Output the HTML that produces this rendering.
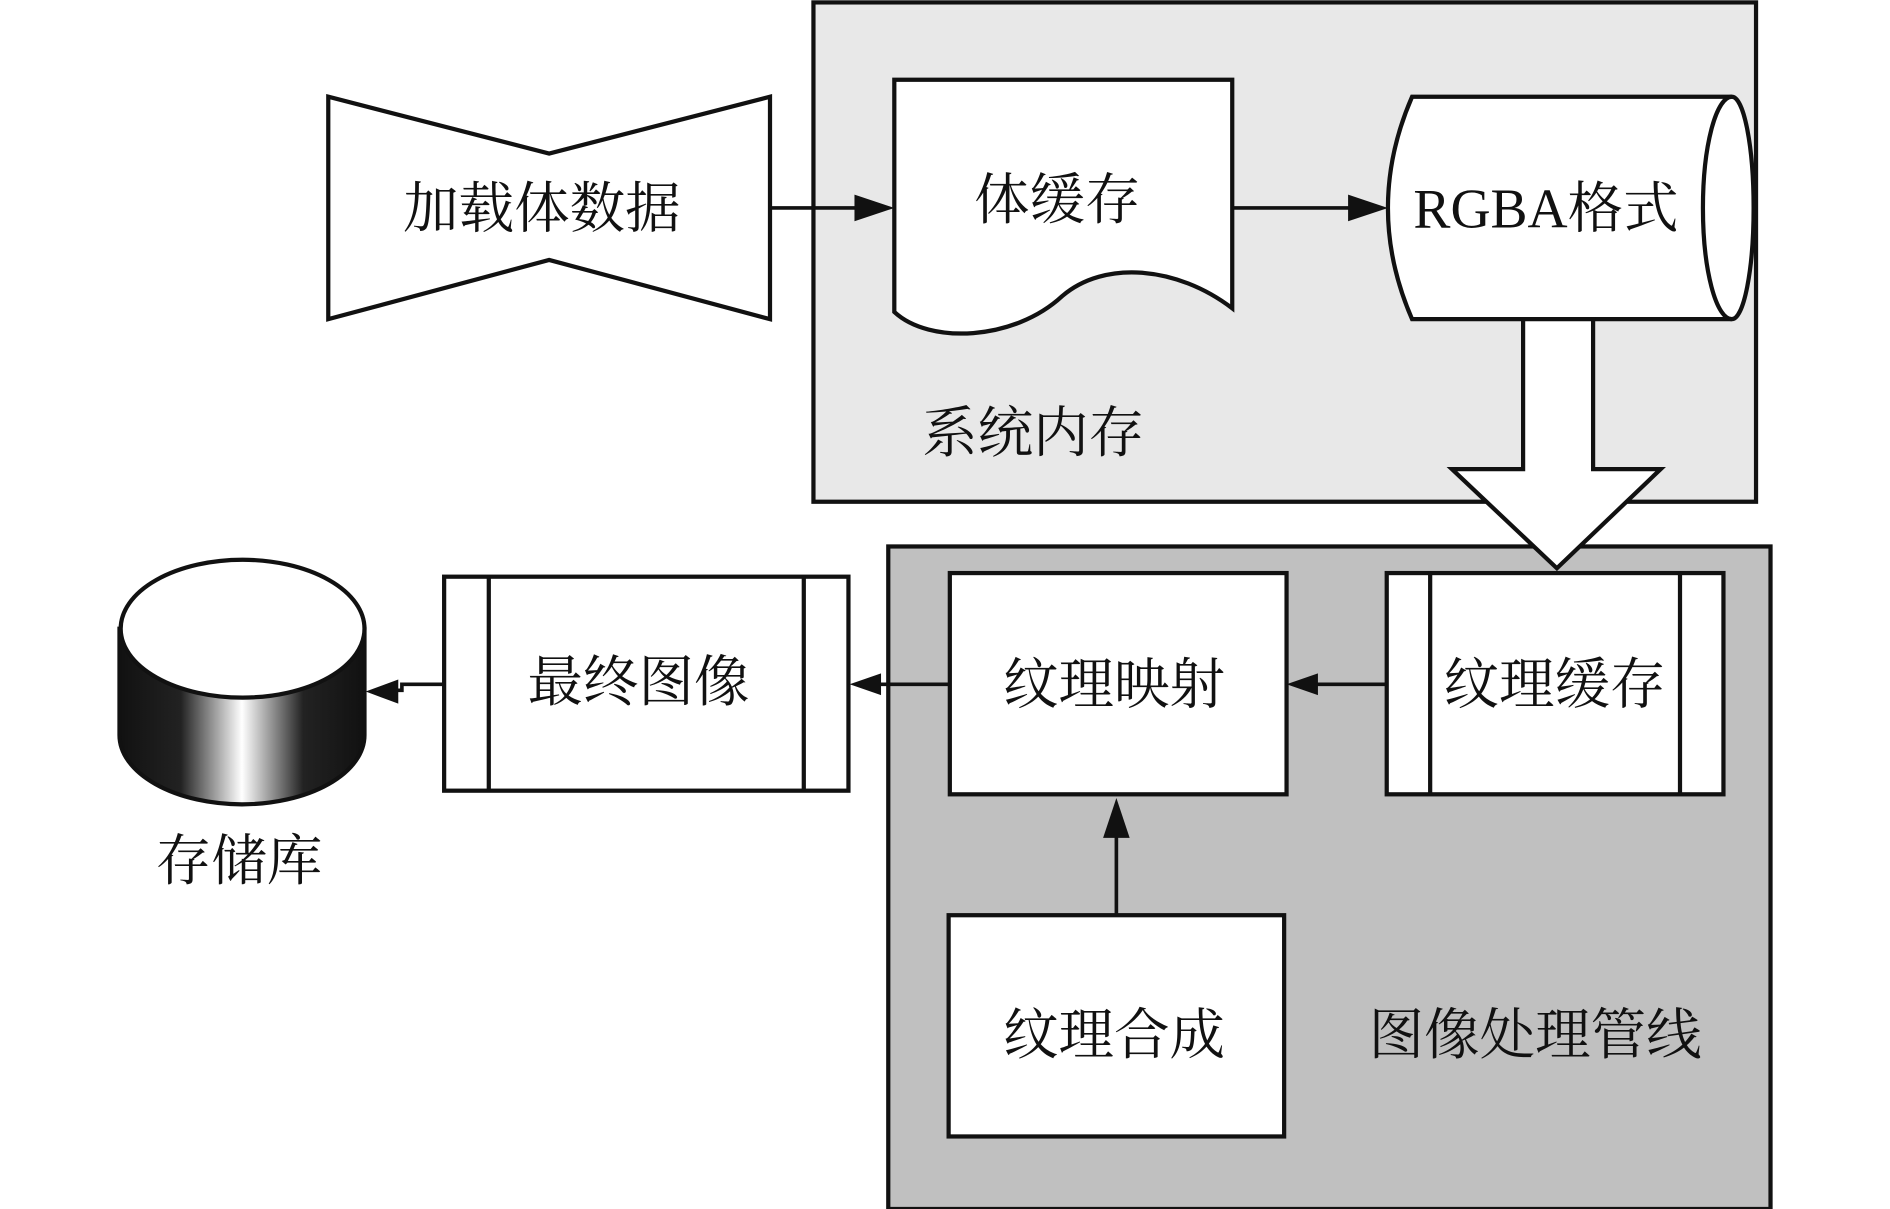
<!DOCTYPE html>
<html><head><meta charset="utf-8"><style>
html,body{margin:0;padding:0;background:#fff;}
svg{display:block;}
text{font-family:"Liberation Serif","Noto Serif CJK SC",serif;font-size:46px;fill:#111;}
</style></head><body>
<svg width="1890" height="1209" viewBox="0 0 1566 1000" preserveAspectRatio="none" xmlns="http://www.w3.org/2000/svg">
<defs>
<linearGradient id="cg" x1="0" x2="1" y1="0" y2="0">
<stop offset="0" stop-color="#111"/><stop offset="0.25" stop-color="#222"/><stop offset="0.5" stop-color="#fff"/><stop offset="0.75" stop-color="#222"/><stop offset="1" stop-color="#111"/>
</linearGradient>
</defs>
<g stroke="#111" stroke-width="3.5" stroke-linejoin="miter">
<rect x="674" y="2" width="781" height="413" fill="#e8e8e8"/>
<rect x="736" y="452" width="731" height="548" fill="#c0c0c0"/>
<polygon points="272,80 455,127 638,80 638,264 455,215 272,264" fill="#fff"/>
<path d="M741,66 H1021 V255 C975,220 915,215 880,245 C840,282 770,285 741,258 Z" fill="#fff"/>
<path d="M1170,80 L1435,80 A18,92 0 0 1 1435,264 L1170,264 Q1130,172 1170,80 Z" fill="#fff"/>
<path d="M1435,80 A24,92 0 0 0 1435,264" fill="none"/>
<polygon points="1262,264 1320,264 1320,388 1376,388 1290,470 1203,388 1262,388" fill="#fff"/>
<rect x="1149" y="474" width="279" height="183" fill="#fff"/>
<line x1="1185" y1="474" x2="1185" y2="657"/><line x1="1392" y1="474" x2="1392" y2="657"/>
<rect x="787" y="474" width="279" height="183" fill="#fff"/>
<rect x="786" y="757" width="278" height="183" fill="#fff"/>
<rect x="368" y="477" width="335" height="177" fill="#fff"/>
<line x1="405" y1="477" x2="405" y2="654"/><line x1="666" y1="477" x2="666" y2="654"/>
<path d="M99,520 V608 A101,57 0 0 0 302,608 V520 Z" fill="url(#cg)"/>
<ellipse cx="201" cy="520" rx="101" ry="57" fill="#fff"/>
<g fill="none" stroke-width="3">
<line x1="638" y1="172" x2="715" y2="172"/>
<line x1="1021" y1="172" x2="1125" y2="172"/>
<line x1="925" y1="757" x2="925" y2="685"/>
<line x1="1149" y1="566" x2="1090" y2="566"/>
<line x1="787" y1="566" x2="728" y2="566"/>
<polyline points="368,566 333,566 333,571 325,571"/>
</g>
<g stroke="none" fill="#111">
<polygon points="741,172 708,161 708,183"/>
<polygon points="1150,172 1117,161 1117,183"/>
<polygon points="925,660 914,693 936,693"/>
<polygon points="1066,566 1092,557 1092,575"/>
<polygon points="704,566 730,557 730,575"/>
<polygon points="303,572 330,562 330,582"/>
</g>
</g>
<text x="449" y="188" text-anchor="middle">加载体数据</text>
<text x="876" y="181" text-anchor="middle">体缓存</text>
<text x="1281" y="188" text-anchor="middle">RGBA格式</text>
<text x="856" y="374" text-anchor="middle">系统内存</text>
<text x="1288" y="582" text-anchor="middle">纹理缓存</text>
<text x="923" y="582" text-anchor="middle">纹理映射</text>
<text x="529" y="580" text-anchor="middle">最终图像</text>
<text x="923" y="872" text-anchor="middle">纹理合成</text>
<text x="1272" y="872" text-anchor="middle">图像处理管线</text>
<text x="198" y="728" text-anchor="middle">存储库</text>
</svg>
</body></html>
